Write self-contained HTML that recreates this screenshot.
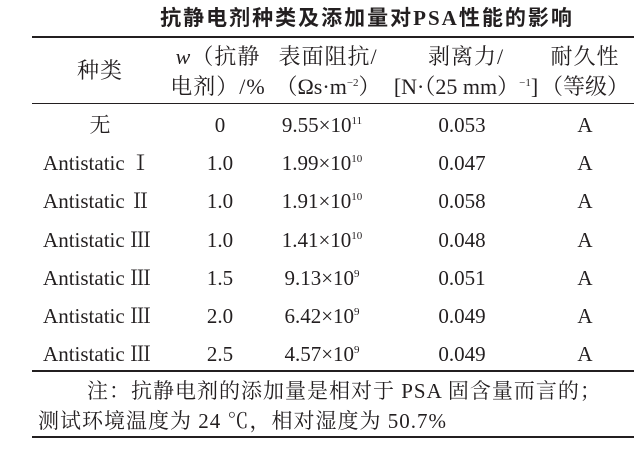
<!DOCTYPE html><html><head><meta charset="utf-8"><style>
body{margin:0;width:641px;height:451px;background:#fff;position:relative;overflow:hidden;font-family:"Liberation Serif","Noto Serif CJK SC",serif;color:#231f20}
.t{position:absolute;white-space:nowrap;font-size:21px;line-height:24px;transform:translateX(-50%)}
.l{position:absolute;left:32px;width:602px;background:#231f20}
sup{font-size:11px;vertical-align:8px;line-height:0}
.h{letter-spacing:1px}
</style></head><body>
<div class="t" style="left:367px;top:6px;font-family:'Liberation Serif','Noto Sans CJK SC',sans-serif;font-weight:bold;font-size:21px;letter-spacing:2px">抗静电剂种类及添加量对PSA性能的影响</div>
<div class="l" style="top:36px;height:2px"></div>
<div class="l" style="top:103px;height:1px"></div>
<div class="l" style="top:370px;height:2px"></div>
<div class="l" style="top:436px;height:2px"></div>
<div class="t h" style="left:100px;top:59px;font-size:22px">种类</div>
<div class="t h" style="left:218px;top:45px;font-size:22px"><i>w</i>（抗静</div>
<div class="t h" style="left:218px;top:75px;font-size:22px">电剂）/%</div>
<div class="t h" style="left:328px;top:45px;font-size:22px">表面阻抗/</div>
<div class="t" style="left:328px;top:75px;font-size:22px">（Ωs·m<sup>−2</sup>）</div>
<div class="t h" style="left:466px;top:45px;font-size:22px">剥离力/</div>
<div class="t" style="left:466px;top:75px;font-size:22px">[N·（25 mm）<sup>−1</sup>]</div>
<div class="t h" style="left:585px;top:45px;font-size:22px">耐久性</div>
<div class="t" style="left:585px;top:75px;font-size:22px">（等级）</div>
<div class="t" style="left:100px;top:113px">无</div><div class="t" style="left:220px;top:113px">0</div><div class="t" style="left:322px;top:113px">9.55×10<sup>11</sup></div><div class="t" style="left:462px;top:113px">0.053</div><div class="t" style="left:585px;top:113px">A</div>
<div class="t" style="left:97px;top:151px">Antistatic Ⅰ</div><div class="t" style="left:220px;top:151px">1.0</div><div class="t" style="left:322px;top:151px">1.99×10<sup>10</sup></div><div class="t" style="left:462px;top:151px">0.047</div><div class="t" style="left:585px;top:151px">A</div>
<div class="t" style="left:97px;top:189px">Antistatic Ⅱ</div><div class="t" style="left:220px;top:189px">1.0</div><div class="t" style="left:322px;top:189px">1.91×10<sup>10</sup></div><div class="t" style="left:462px;top:189px">0.058</div><div class="t" style="left:585px;top:189px">A</div>
<div class="t" style="left:97px;top:228px">Antistatic Ⅲ</div><div class="t" style="left:220px;top:228px">1.0</div><div class="t" style="left:322px;top:228px">1.41×10<sup>10</sup></div><div class="t" style="left:462px;top:228px">0.048</div><div class="t" style="left:585px;top:228px">A</div>
<div class="t" style="left:97px;top:266px">Antistatic Ⅲ</div><div class="t" style="left:220px;top:266px">1.5</div><div class="t" style="left:322px;top:266px">9.13×10<sup>9</sup></div><div class="t" style="left:462px;top:266px">0.051</div><div class="t" style="left:585px;top:266px">A</div>
<div class="t" style="left:97px;top:304px">Antistatic Ⅲ</div><div class="t" style="left:220px;top:304px">2.0</div><div class="t" style="left:322px;top:304px">6.42×10<sup>9</sup></div><div class="t" style="left:462px;top:304px">0.049</div><div class="t" style="left:585px;top:304px">A</div>
<div class="t" style="left:97px;top:342px">Antistatic Ⅲ</div><div class="t" style="left:220px;top:342px">2.5</div><div class="t" style="left:322px;top:342px">4.57×10<sup>9</sup></div><div class="t" style="left:462px;top:342px">0.049</div><div class="t" style="left:585px;top:342px">A</div>
<div class="t" style="left:87px;top:379px;transform:none;letter-spacing:1px">注：抗静电剂的添加量是相对于 PSA 固含量而言的；</div>
<div class="t" style="left:38px;top:409px;transform:none;letter-spacing:1px">测试环境温度为 24 ℃，相对湿度为 50.7%</div>
</body></html>
